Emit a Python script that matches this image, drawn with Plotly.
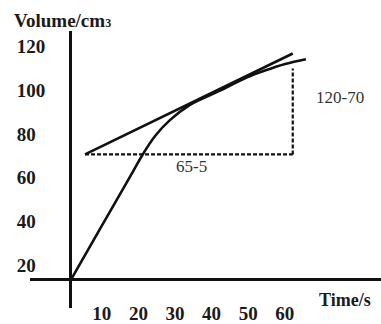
import plotly.graph_objects as go

# ---- data ----
time_s = [1.6, 9.5, 18.5, 21.0, 24.5, 28.6, 34.1, 42.3, 49.7, 54.6, 60.1, 65.8]
volume_cm3 = [13.5, 36.6, 62.8, 70.2, 79.0, 86.4, 93.4, 99.9, 106.0, 109.1, 112.1, 114.3]

tangent_x = [5.4, 62.2]
tangent_y = [70.7, 116.9]

run_x = [5.4, 62.2]
run_y = [70.7, 70.7]
rise_x = [62.2, 62.2]
rise_y = [70.7, 110.0]

x_ticks = [10, 20, 30, 40, 50, 60]
x_tick_labels = ["10", "20", "30", "40", "50", "60"]
y_ticks = [20, 40, 60, 80, 100, 120]
y_tick_labels = ["20\u2007", "40\u2007", "60\u2007", "80\u2007", "100", "120"]

W, H = 381, 324
INK = "#111111"
SERIF = "Liberation Serif, Times New Roman, serif"

fig = go.Figure()
fig.add_trace(go.Scatter(x=time_s, y=volume_cm3, mode="lines",
                         line=dict(color=INK, width=2.6, shape="spline", smoothing=0.8),
                         hoverinfo="skip"))
fig.add_trace(go.Scatter(x=tangent_x, y=tangent_y, mode="lines",
                         line=dict(color=INK, width=2.6), hoverinfo="skip"))
fig.add_trace(go.Scatter(x=run_x, y=run_y, mode="lines",
                         line=dict(color=INK, width=2.2, dash="4px,2px"), hoverinfo="skip"))
fig.add_trace(go.Scatter(x=rise_x, y=rise_y, mode="lines",
                         line=dict(color=INK, width=2.2, dash="4px,2px"), hoverinfo="skip"))

fig.update_layout(
    width=W, height=H,
    margin=dict(l=0, r=0, t=0, b=0),
    paper_bgcolor="white", plot_bgcolor="white",
    showlegend=False,
    xaxis=dict(domain=[30 / W, 1], range=[-9.65, 86.33],
               anchor="free", position=1 - 293 / H,
               showgrid=False, zeroline=False,
               showline=True, linecolor=INK, linewidth=3,
               ticks="", tickvals=x_ticks, ticktext=x_tick_labels,
               ticklabelstandoff=16,
               tickfont=dict(family=SERIF, size=19, color="#1a1a1a", weight="bold")),
    yaxis=dict(domain=[1 / H, 1 - 33 / H], range=[0.35, 127.0],
               anchor="free", position=70 / W,
               showgrid=False, zeroline=False,
               showline=True, linecolor=INK, linewidth=3,
               ticks="", tickvals=y_ticks, ticktext=y_tick_labels,
               ticklabelstandoff=20,
               tickfont=dict(family=SERIF, size=19, color="#1a1a1a", weight="bold")),
)

fig.add_annotation(xref="paper", yref="paper", x=12 / W, y=1 - 21 / H,
                   xanchor="left", yanchor="middle", showarrow=False,
                   text="<b>Volume/cm<span style='font-size:12px'>3</span></b>",
                   font=dict(family=SERIF, size=19, color="#1a1a1a"))
fig.add_annotation(xref="paper", yref="paper", x=317 / W, y=1 - 315 / H,
                   xanchor="left", yanchor="middle", showarrow=False,
                   text="<b>Time/s</b>",
                   font=dict(family=SERIF, size=18, color="#1a1a1a"))
fig.add_annotation(xref="paper", yref="paper", x=314 / W, y=1 - 102 / H,
                   xanchor="left", yanchor="middle", showarrow=False,
                   text="120-70",
                   font=dict(family=SERIF, size=17, color="#333333"))
fig.add_annotation(xref="paper", yref="paper", x=174 / W, y=1 - 175 / H,
                   xanchor="left", yanchor="middle", showarrow=False,
                   text="65-5",
                   font=dict(family=SERIF, size=17, color="#333333"))

fig.write_html("out.html",
               config={"displayModeBar": False, "staticPlot": True},
               post_script="document.body.style.margin='0';document.body.style.overflow='hidden';")
